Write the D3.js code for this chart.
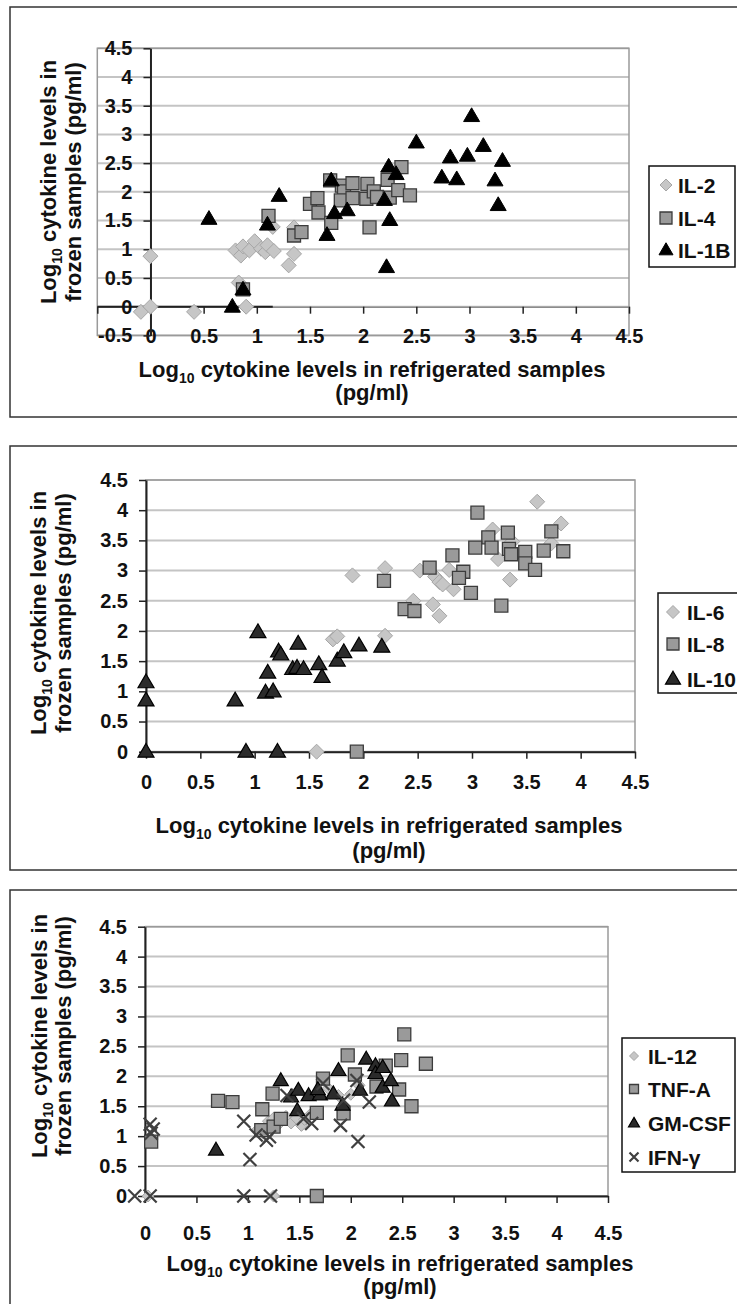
<!DOCTYPE html>
<html lang="en">
<head>
<meta charset="utf-8">
<title>Cytokine levels in refrigerated vs frozen samples</title>
<script src="https://cdn.jsdelivr.net/npm/d3@7/dist/d3.min.js"></script>
<style>
  body { margin: 0; background: #fff; }
  svg text { font-family: "Liberation Sans", Arial, sans-serif; font-weight: bold; fill: #111; }
</style>
</head>
<body>
<script>
// ---- data: [log10 refrigerated, log10 frozen] ----
var il2 = [[-0.09,-0.09],[0,0],[0,0.88],[0.41,-0.09],[0.83,0.42],[0.90,0],[0.80,0.98],[0.85,0.89],
           [0.87,1.05],[0.93,0.98],[0.98,1.14],[1.04,1.01],[1.08,0.95],[1.10,1.07],[1.16,0.97],
           [1.15,1.39],[1.30,0.72],[1.35,0.92],[1.35,1.38]];
var il4 = [[0.87,0.30],[1.11,1.58],[1.35,1.24],[1.42,1.30],[1.50,1.79],[1.57,1.89],[1.58,1.64],
           [1.69,2.20],[1.70,1.46],[1.80,2.11],[1.82,2.01],[1.79,1.85],[1.90,2.15],[1.90,1.89],
           [2.04,2.14],[2.03,1.88],[2.10,2.01],[2.13,1.91],[2.06,1.38],[2.23,2.21],[2.25,1.90],
           [2.36,2.43],[2.33,2.03],[2.44,1.94]];
var il1b = [[0.77,0],[0.87,0.30],[0.55,1.53],[1.10,1.43],[1.21,1.93],[1.66,1.25],[1.70,2.20],
            [1.73,1.63],[1.85,1.68],[2.20,1.86],[2.22,0.69],[2.25,1.51],[2.24,2.44],[2.31,2.31],
            [2.50,2.86],[2.74,2.25],[2.82,2.60],[2.88,2.22],[2.98,2.63],[3.02,3.32],[3.13,2.80],
            [3.24,2.20],[3.27,1.77],[3.31,2.54]];

var il6 = [[3.60,4.14],[3.82,3.78],[3.19,3.68],[3.37,3.48],[3.73,3.45],[3.24,3.19],[3.35,2.85],
           [2.20,3.04],[1.90,2.92],[2.52,3.00],[2.66,2.90],[2.70,2.81],[2.73,2.77],[2.79,3.01],
           [2.83,2.69],[2.46,2.50],[2.64,2.44],[2.70,2.25],[1.72,1.86],[1.76,1.91],[2.20,1.92],[1.57,0]];
var il8 = [[3.05,3.96],[3.15,3.55],[3.33,3.63],[3.73,3.65],[3.03,3.38],[3.18,3.38],[3.34,3.36],
           [3.36,3.27],[3.49,3.31],[3.49,3.12],[3.66,3.33],[3.84,3.32],[3.58,3.01],[2.82,3.25],
           [2.61,3.05],[2.92,2.98],[2.88,2.88],[2.99,2.63],[3.27,2.42],[2.19,2.83],[2.38,2.36],
           [2.47,2.33],[1.94,0]];
var il10 = [[0,0],[0,0.85],[0,1.15],[0.82,0.85],[0.92,0],[1.21,0],[1.03,1.98],[1.12,1.31],
            [1.10,0.98],[1.17,1.0],[1.22,1.66],[1.24,1.61],[1.40,1.79],[1.35,1.37],[1.39,1.39],
            [1.45,1.37],[1.59,1.45],[1.62,1.24],[1.76,1.51],[1.82,1.65],[1.96,1.76],[2.17,1.74]];

var il12 = [[0.03,0],[1.25,0],[1.10,1.12],[1.15,1.05],[1.20,1.25],[1.25,1.30],[1.30,1.20],
            [1.37,1.33],[1.42,1.22],[1.47,1.30],[1.52,1.18],[1.55,1.28],[1.60,1.35],[1.72,1.95],
            [1.78,1.80],[1.88,1.68],[2.00,1.70],[2.05,1.98],[2.08,1.85]];
var tnfa = [[0.06,0.91],[0.71,1.59],[0.85,1.57],[1.14,1.45],[1.24,1.71],[1.13,1.10],[1.25,1.16],
            [1.32,1.29],[1.67,0],[1.67,1.39],[1.73,1.96],[1.93,1.38],[1.97,2.35],[2.04,2.03],
            [2.25,1.83],[2.34,2.18],[2.47,1.78],[2.49,2.27],[2.52,2.70],[2.59,1.50],[2.73,2.21]];
var gmcsf = [[0.69,0.77],[1.32,1.93],[1.42,1.66],[1.49,1.77],[1.48,1.43],[1.59,1.68],[1.70,1.69],
             [1.68,1.78],[1.83,1.71],[1.88,2.10],[1.92,1.52],[2.09,1.77],[2.15,2.29],[2.24,2.18],
             [2.24,2.05],[2.31,2.15],[2.31,1.82],[2.39,1.93],[2.40,1.59]];
var ifng = [[-0.10,0],[0.05,0],[0.05,1.20],[0.06,1.05],[0.08,1.12],[0.96,0],[1.22,0],[0.96,1.25],
            [1.02,0.61],[1.08,1.02],[1.18,0.93],[1.21,0.99],[1.38,1.68],[1.54,1.29],[1.62,1.21],
            [1.73,1.88],[1.90,1.18],[2.07,0.91],[1.93,1.60],[2.18,1.57],[2.06,1.93]];

var xTicks1 = [-0.5, 0, 0.5, 1, 1.5, 2, 2.5, 3, 3.5, 4, 4.5];
var yTicks1 = [-0.5, 0, 0.5, 1, 1.5, 2, 2.5, 3, 3.5, 4, 4.5];
var ticks = [0, 0.5, 1, 1.5, 2, 2.5, 3, 3.5, 4, 4.5];

// ---- marker styles ----
var styles = {
  diamond:  { shape: 'diamond',  fill: '#c6c6c6', stroke: '#a6a6a6', sw: 1 },
  square:   { shape: 'square',   fill: '#9a9a9a', stroke: '#3c3c3c', sw: 1.3 },
  triBlack: { shape: 'triangle', fill: '#000',    stroke: '#000',    sw: 1 },
  triDark:  { shape: 'triangle', fill: '#2b2b2b', stroke: '#000',    sw: 1.2 },
  cross:    { shape: 'cross',    fill: 'none',    stroke: '#404040', sw: 2.2 }
};

function markerPath(shape, s) {
  var r = s / 2;
  if (shape === 'diamond') return 'M0,' + (-r) + 'L' + r + ',0L0,' + r + 'L' + (-r) + ',0Z';
  if (shape === 'square') return 'M' + (-r) + ',' + (-r) + 'h' + s + 'v' + s + 'h' + (-s) + 'Z';
  if (shape === 'triangle') {
    var h = s * 0.86;
    return 'M0,' + (-h * 0.6) + 'L' + r + ',' + (h * 0.4) + 'L' + (-r) + ',' + (h * 0.4) + 'Z';
  }
  return 'M' + (-r) + ',' + (-r) + 'L' + r + ',' + r + 'M' + r + ',' + (-r) + 'L' + (-r) + ',' + r;
}

var panels = [
  {
    frame: [7, 417],
    xDomain: [-0.5, 4.5], xRange: [97.3, 629],
    yDomain: [-0.5, 4.5], yRange: [335.4, 48.3],
    xTicks: xTicks1, yTicks: yTicks1, xPad: 15, darkTo: 1.15,
    yTitle: [49, 74, 182], xTitle: [372, 370, 393],
    series: [
      { name: 'IL-2',  data: il2,  st: styles.diamond,  size: 15, ls: 12 },
      { name: 'IL-4',  data: il4,  st: styles.square,   size: 13, ls: 12 },
      { name: 'IL-1B', data: il1b, st: styles.triBlack, size: 16, ls: 14 }
    ],
    legend: { box: [649, 166, 86, 101], mx: 666, tx: 678, ys: [185, 218, 250] }
  },
  {
    frame: [446, 870],
    xDomain: [0, 4.5], xRange: [146, 635],
    yDomain: [0, 4.5], yRange: [751.7, 480],
    xTicks: ticks, yTicks: ticks, xPad: 16,
    yTitle: [39, 64, 613], xTitle: [389, 826, 851],
    series: [
      { name: 'IL-6',  data: il6,  st: styles.diamond, size: 15, ls: 13 },
      { name: 'IL-8',  data: il8,  st: styles.square,  size: 13, ls: 12 },
      { name: 'IL-10', data: il10, st: styles.triDark, size: 16, ls: 15 }
    ],
    legend: { box: [658, 593, 90, 100], mx: 673, tx: 687, ys: [612, 644, 679] }
  },
  {
    frame: [890, 1312],
    xDomain: [0, 4.5], xRange: [145, 608],
    yDomain: [0, 4.5], yRange: [1196, 926.7],
    xTicks: ticks, yTicks: ticks, xPad: 23,
    yTitle: [40, 64, 1036], xTitle: [400, 1264, 1287],
    series: [
      { name: 'IL-12',  data: il12,  st: styles.diamond, size: 12, ls: 9 },
      { name: 'TNF-A',  data: tnfa,  st: styles.square,  size: 13, ls: 9 },
      { name: 'GM-CSF', data: gmcsf, st: styles.triDark, size: 15, ls: 11 },
      { name: 'IFN-\u03b3', data: ifng, st: styles.cross, size: 13, ls: 9 }
    ],
    legend: { box: [622, 1038, 113, 134], mx: 634, tx: 648, ys: [1056, 1089, 1123, 1157] }
  }
];

var svg = d3.select('body').append('svg')
  .attr('width', 737)
  .attr('height', 1304);

function logLabel(sel, rest) {
  sel.append('tspan').text('Log');
  sel.append('tspan').attr('font-size', 14).attr('dy', 6).text('10');
  sel.append('tspan').attr('dy', -6).text(rest);
}

function drawPanel(p) {
  var g = svg.append('g');

  g.append('rect')
    .attr('x', 10).attr('y', p.frame[0])
    .attr('width', 760).attr('height', p.frame[1] - p.frame[0])
    .attr('fill', 'none').attr('stroke', '#333').attr('stroke-width', 1.5);

  var x = d3.scaleLinear().domain(p.xDomain).range(p.xRange);
  var y = d3.scaleLinear().domain(p.yDomain).range(p.yRange);

  // horizontal gridlines
  g.append('g').selectAll('line')
    .data(p.yTicks)
    .enter().append('line')
    .attr('x1', x(p.xDomain[0])).attr('x2', x(p.xDomain[1]))
    .attr('y1', function(d) { return y(d); })
    .attr('y2', function(d) { return y(d); })
    .attr('stroke', '#c4c4c4').attr('stroke-width', 2);

  // plot area border
  g.append('rect')
    .attr('x', x(p.xDomain[0])).attr('y', y(p.yDomain[1]))
    .attr('width', x(p.xDomain[1]) - x(p.xDomain[0]))
    .attr('height', y(p.yDomain[0]) - y(p.yDomain[1]))
    .attr('fill', 'none').attr('stroke', '#9a9a9a').attr('stroke-width', 1.5);

  // x axis crossing at y = 0
  var xa = g.append('g')
    .attr('transform', 'translate(0,' + y(0) + ')')
    .attr('color', '#222')
    .call(d3.axisBottom(x).tickValues(p.xTicks).tickSize(7).tickSizeOuter(0)
      .tickPadding(p.xPad)
      .tickFormat(function(d) { return d < 0 ? '' : String(d); }));
  xa.selectAll('text').attr('font-size', 20);
  xa.selectAll('.tick line').attr('stroke-width', 1.5);
  if (p.darkTo !== undefined) {
    xa.select('.domain').attr('stroke', '#8c8c8c').attr('stroke-width', 1.5);
    xa.append('line')
      .attr('x1', x(p.xDomain[0])).attr('x2', x(p.darkTo))
      .attr('stroke', '#222').attr('stroke-width', 2);
  } else {
    xa.select('.domain').attr('stroke-width', 2);
  }

  // y axis crossing at x = 0
  var ya = g.append('g')
    .attr('transform', 'translate(' + x(0) + ',0)')
    .attr('color', '#222')
    .call(d3.axisLeft(y).tickValues(p.yTicks).tickSize(7).tickSizeOuter(0)
      .tickPadding(11).tickFormat(function(d) { return String(d); }));
  ya.selectAll('text').attr('font-size', 20);
  ya.selectAll('.tick line').attr('stroke-width', 1.5);
  ya.select('.domain').attr('stroke-width', 2);

  // series markers
  p.series.forEach(function(s) {
    g.append('g').selectAll('path')
      .data(s.data)
      .enter().append('path')
      .attr('transform', function(d) { return 'translate(' + x(d[0]) + ',' + y(d[1]) + ')'; })
      .attr('d', markerPath(s.st.shape, s.size))
      .attr('fill', s.st.fill)
      .attr('stroke', s.st.stroke)
      .attr('stroke-width', s.st.sw);
  });

  // y title
  var yt = g.append('g')
    .attr('transform', 'translate(0,' + p.yTitle[2] + ') rotate(-90)');
  var l1 = yt.append('text').attr('x', 0).attr('y', p.yTitle[0] + 7)
    .attr('text-anchor', 'middle').attr('font-size', 22);
  logLabel(l1, ' cytokine levels in');
  yt.append('text').attr('x', 0).attr('y', p.yTitle[1] + 7)
    .attr('text-anchor', 'middle').attr('font-size', 22)
    .text('frozen samples (pg/ml)');

  // x title
  var l3 = g.append('text').attr('x', p.xTitle[0]).attr('y', p.xTitle[1] + 7)
    .attr('text-anchor', 'middle').attr('font-size', 22);
  logLabel(l3, ' cytokine levels in refrigerated samples');
  g.append('text').attr('x', p.xTitle[0]).attr('y', p.xTitle[2] + 7)
    .attr('text-anchor', 'middle').attr('font-size', 22)
    .text('(pg/ml)');

  // legend
  var L = p.legend;
  g.append('rect')
    .attr('x', L.box[0]).attr('y', L.box[1])
    .attr('width', L.box[2]).attr('height', L.box[3])
    .attr('fill', '#fff').attr('stroke', '#111').attr('stroke-width', 1.5);
  p.series.forEach(function(s, i) {
    g.append('path')
      .attr('transform', 'translate(' + L.mx + ',' + L.ys[i] + ')')
      .attr('d', markerPath(s.st.shape, s.ls))
      .attr('fill', s.st.fill)
      .attr('stroke', s.st.stroke)
      .attr('stroke-width', s.st.sw);
    g.append('text')
      .attr('x', L.tx).attr('y', L.ys[i] + 7.5)
      .attr('font-size', 21)
      .text(s.name);
  });
}

panels.forEach(drawPanel);
</script>
</body>
</html>
